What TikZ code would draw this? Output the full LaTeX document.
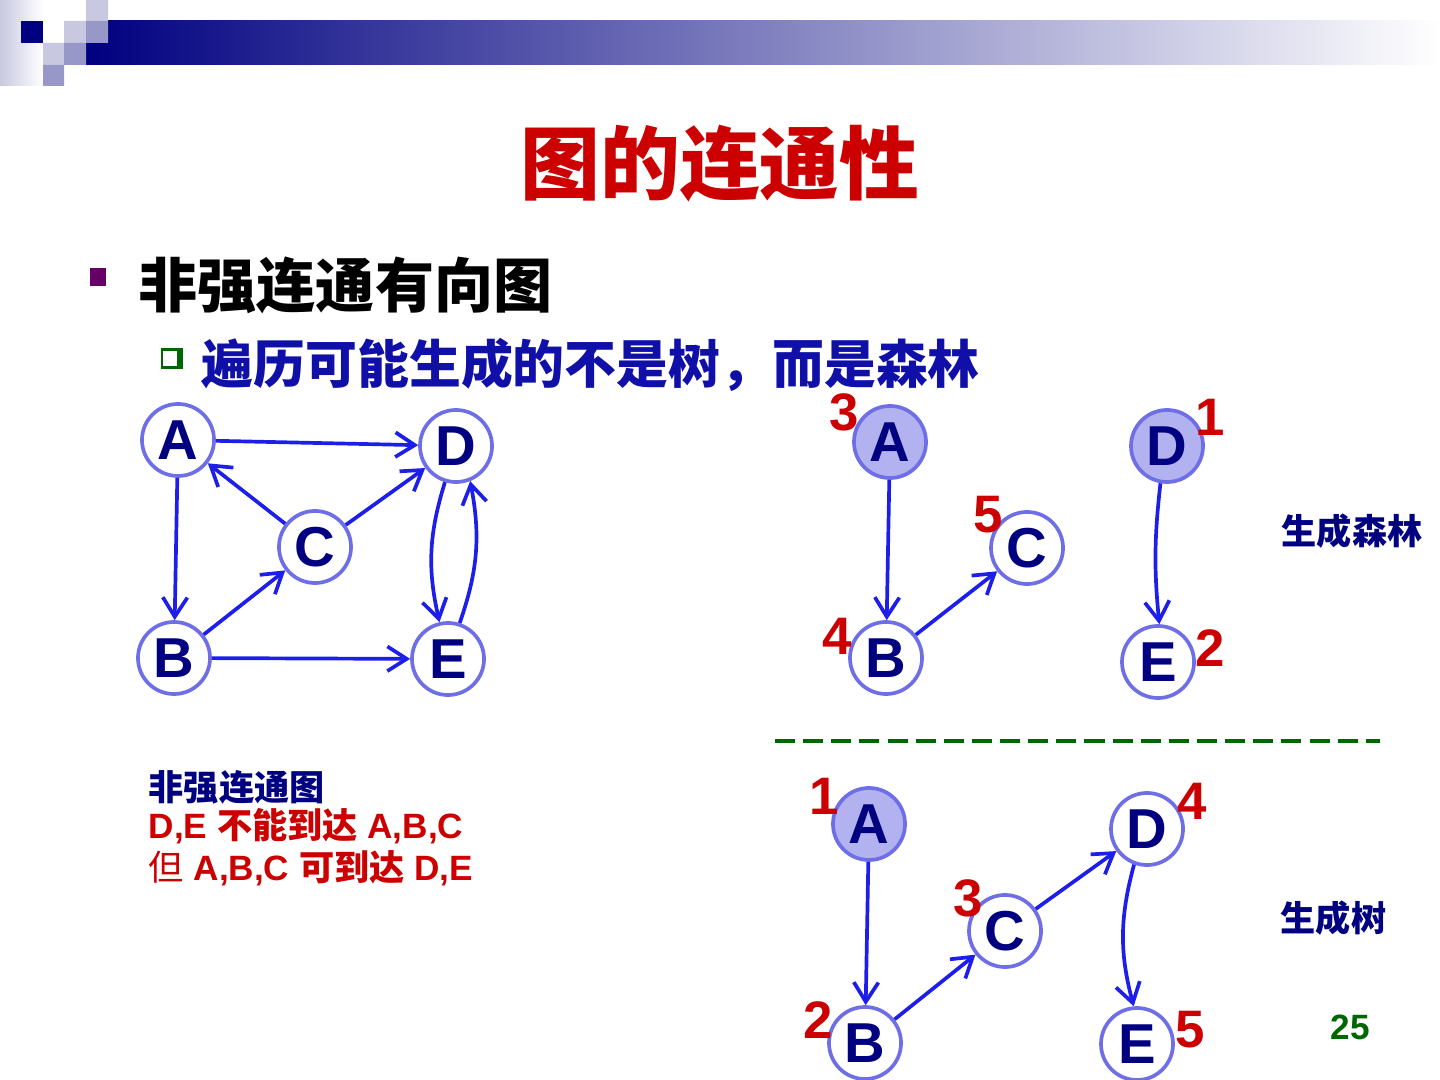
\documentclass[tikz,border=0pt]{standalone}
\usepackage{fontspec}
\setmainfont{Liberation Sans}
\newfontfamily\cjk{Noto Sans CJK SC}
\usetikzlibrary{arrows.meta}
\definecolor{navy}{RGB}{0,0,128}
\definecolor{vline}{RGB}{110,110,230}
\definecolor{vfill}{RGB}{178,178,240}
\definecolor{eblue}{RGB}{30,30,235}
\definecolor{tred}{RGB}{204,0,0}
\definecolor{sblue}{RGB}{16,16,168}
\definecolor{dgreen}{RGB}{0,102,0}
\definecolor{hlight}{RGB}{200,200,225}
\definecolor{hmid}{RGB}{152,152,200}
\definecolor{bpurple}{RGB}{102,0,102}

\begin{document}
\begin{tikzpicture}[x=0.01cm,y=-0.01cm,
    vtx/.style={circle,draw=vline,fill=white,line width=1.05pt,minimum size=0.72cm,inner sep=0pt,text=navy,font={\fontsize{16}{16}\selectfont\bfseries}},
    root/.style={vtx,fill=vfill},
    num/.style={text=tred,inner sep=0pt,font={\fontsize{15}{15}\selectfont\bfseries}},
    edge/.style={draw=eblue,line width=1.05pt,-{Straight Barb[length=5.5pt,width=7pt]}},
    note/.style={anchor=base west,inner sep=0pt,font={\fontsize{10}{10}\selectfont\bfseries}}]
    \useasboundingbox (0,0) rectangle (1440,1080);
    \shade[left color=hlight,right color=white] (0,0) rectangle (43,86);
    \shade[left color=navy,right color=white] (86,21) rectangle (1440,65);
    \fill[navy] (21,21) rectangle (43,43);
    \fill[hlight] (86,0) rectangle (108,21) (64,21) rectangle (86,43) (43,43) rectangle (64,65);
    \fill[hmid] (86,21) rectangle (108,43) (64,43) rectangle (86,65) (43,65) rectangle (64,86);
    \node[anchor=base,inner sep=0pt,text=tred,font={\cjk\fontsize{22.7}{24}\selectfont\bfseries}] (title) at (720,194) {图的连通性};
    \fill[bpurple] (90,268) rectangle (106,286);
    \node[anchor=base west,inner sep=0pt,font={\cjk\fontsize{16.8}{18}\selectfont\bfseries}] (head) at (138,308) {非强连通有向图};
    \fill[dgreen] (161,348) rectangle (183,369);
    \fill[white] (163,351) rectangle (177,366);
    \node[anchor=base west,inner sep=0pt,text=sblue,font={\cjk\fontsize{14.75}{16}\selectfont\bfseries}] (sub) at (201,384) {遍历可能生成的不是树，而是森林};
    \foreach \n/\x/\y in {A/178/440,D/456/446,C/315/547,B/174/658,E/448/659}{
      \node[vtx] (g\n) at (\x,\y) {\n};
    }
    \draw[edge] (gA) -- (gD);
    \draw[edge] (gA) -- (gB);
    \draw[edge] (gC) -- (gA);
    \draw[edge] (gC) -- (gD);
    \draw[edge] (gB) -- (gC);
    \draw[edge] (gB) -- (gE);
    \draw[edge] (gD.253) to[bend right=15] (gE.103);
    \draw[edge] (gE.72) to[bend right=15] (gD.292);
    \foreach \n/\x/\y/\s in {A/890/442/root,D/1167/446/root,C/1027/548/vtx,B/886/658/vtx,E/1158/662/vtx}{
      \node[\s] (f\n) at (\x,\y) {\n};
    }
    \foreach \n/\x/\y/\k in {A/844/412/3,D/1210/417/1,C/988/515/5,B/837/636/4,E/1210/648/2}{
      \node[num] (fn\n) at (\x,\y) {\k};
    }
    \draw[edge] (fA) -- (fB);
    \draw[edge] (fB) -- (fC);
    \draw[edge] (fD.260) to[bend right=6] (fE.88);
    \coordinate (dl) at (775,741);
    \coordinate (dr) at (1380,741);
    \draw[dgreen,line width=1.1pt,dash pattern=on 5.7pt off 2.3pt] (dl) -- (dr);
    \foreach \n/\x/\y/\s in {A/869/824/root,D/1147/829/vtx,C/1005/931/vtx,B/865/1043/vtx,E/1137/1044/vtx}{
      \node[\s] (t\n) at (\x,\y) {\n};
    }
    \foreach \n/\x/\y/\k in {A/824/796/1,D/1192/801/4,C/968/898/3,B/818/1020/2,E/1190/1030/5}{
      \node[num] (tn\n) at (\x,\y) {\k};
    }
    \draw[edge] (tA) -- (tB);
    \draw[edge] (tB) -- (tC);
    \draw[edge] (tC) -- (tD);
    \draw[edge] (tD.250) to[bend right=15] (tE.95);
    \node[note,text=navy] (lforest) at (1281,545) {\cjk 生成森林};
    \node[note,text=navy] (ltree) at (1280,931) {\cjk 生成树};
    \node[note,text=dgreen] (page) at (1330,1039) {25};
    \node[note,text=navy] (info1) at (148,800) {\cjk 非强连通图};
    \node[note,text=tred] (info2) at (148,838) {D,E {\cjk 不能到达} A,B,C};
    \node[note,text=tred] (info3) at (148,880) {{\cjk\mdseries 但} A,B,C {\cjk 可到达} D,E};
  \end{tikzpicture}
\end{document}
